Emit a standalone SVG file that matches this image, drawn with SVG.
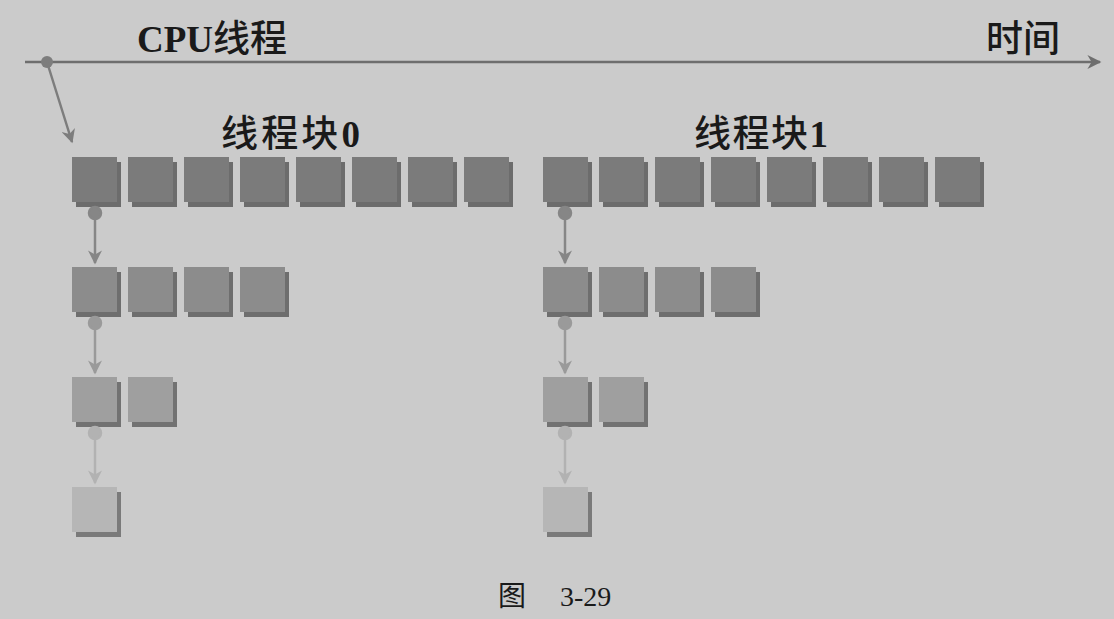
<svg xmlns="http://www.w3.org/2000/svg" width="1114" height="619" viewBox="0 0 1114 619">
<defs>
<style>
.t{font-family:"Liberation Serif","Noto Sans CJK SC",serif;fill:#1a1a1a}
.lbl{font-size:37px;font-weight:500}
.b{font-weight:bold}
.cap{font-size:28px}
.s1{fill:#6c6c6c}.f1{fill:#7b7b7b}
.s2{fill:#6e6e6e}.f2{fill:#8c8c8c}
.s3{fill:#727272}.f3{fill:#9f9f9f}
.s4{fill:#7a7a7a}.f4{fill:#b6b6b6}
.c1{stroke:#868686;fill:#868686}
.c2{stroke:#9a9a9a;fill:#9a9a9a}
.c3{stroke:#b2b2b2;fill:#b2b2b2}
</style>
<marker id="ah1" viewBox="0 0 10 10" refX="9" refY="5" markerWidth="16" markerHeight="14" orient="auto" markerUnits="userSpaceOnUse"><path d="M0,0 L10,5 L0,10 L3,5 z" fill="#868686"/></marker>
<marker id="ah2" viewBox="0 0 10 10" refX="9" refY="5" markerWidth="16" markerHeight="14" orient="auto" markerUnits="userSpaceOnUse"><path d="M0,0 L10,5 L0,10 L3,5 z" fill="#9a9a9a"/></marker>
<marker id="ah3" viewBox="0 0 10 10" refX="9" refY="5" markerWidth="16" markerHeight="14" orient="auto" markerUnits="userSpaceOnUse"><path d="M0,0 L10,5 L0,10 L3,5 z" fill="#b2b2b2"/></marker>
<marker id="aht" viewBox="0 0 10 10" refX="9" refY="5" markerWidth="18" markerHeight="14" orient="auto" markerUnits="userSpaceOnUse"><path d="M0,0 L10,5 L0,10 L3,5 z" fill="#6e6e6e"/></marker>
<marker id="ahd" viewBox="0 0 10 10" refX="9" refY="5" markerWidth="16" markerHeight="14" orient="auto" markerUnits="userSpaceOnUse"><path d="M0,0 L10,5 L0,10 L3,5 z" fill="#7d7d7d"/></marker>
<g id="sq1"><rect class="s1" x="4" y="5" width="45" height="45"/><rect class="f1" x="0" y="0" width="45" height="45"/></g>
<g id="sq2"><rect class="s2" x="4" y="5" width="45" height="45"/><rect class="f2" x="0" y="0" width="45" height="45"/></g>
<g id="sq3"><rect class="s3" x="4" y="5" width="45" height="45"/><rect class="f3" x="0" y="0" width="45" height="45"/></g>
<g id="sq4"><rect class="s4" x="4" y="5" width="45" height="45"/><rect class="f4" x="0" y="0" width="45" height="45"/></g>
</defs>
<rect width="1114" height="619" fill="#cbcbcb"/>

<g id="timeline">
<line x1="25" y1="62" x2="1100" y2="62" stroke="#6e6e6e" stroke-width="2.5" marker-end="url(#aht)"/>
<text class="t lbl" x="137" y="52"><tspan class="b">CPU</tspan>线程</text>
<text class="t lbl" x="986" y="52">时间</text>
</g>

<g id="block0">
<text class="t lbl" x="221" y="147" textLength="139"><tspan>线程块</tspan><tspan class="b">0</tspan></text>
<g id="b0r1">
<use href="#sq1" x="72" y="157"/><use href="#sq1" x="128" y="157"/><use href="#sq1" x="184" y="157"/><use href="#sq1" x="240" y="157"/>
<use href="#sq1" x="296" y="157"/><use href="#sq1" x="352" y="157"/><use href="#sq1" x="408" y="157"/><use href="#sq1" x="464" y="157"/>
</g>
<g id="b0r2"><use href="#sq2" x="72" y="267"/><use href="#sq2" x="128" y="267"/><use href="#sq2" x="184" y="267"/><use href="#sq2" x="240" y="267"/></g>
<g id="b0r3"><use href="#sq3" x="72" y="377"/><use href="#sq3" x="128" y="377"/></g>
<g id="b0r4"><use href="#sq4" x="72" y="487"/></g>
</g>

<g id="block1">
<text class="t lbl" x="694" y="147" textLength="134"><tspan>线程块</tspan><tspan class="b">1</tspan></text>
<g id="b1r1">
<use href="#sq1" x="543" y="157"/><use href="#sq1" x="599" y="157"/><use href="#sq1" x="655" y="157"/><use href="#sq1" x="711" y="157"/>
<use href="#sq1" x="767" y="157"/><use href="#sq1" x="823" y="157"/><use href="#sq1" x="879" y="157"/><use href="#sq1" x="935" y="157"/>
</g>
<g id="b1r2"><use href="#sq2" x="543" y="267"/><use href="#sq2" x="599" y="267"/><use href="#sq2" x="655" y="267"/><use href="#sq2" x="711" y="267"/></g>
<g id="b1r3"><use href="#sq3" x="543" y="377"/><use href="#sq3" x="599" y="377"/></g>
<g id="b1r4"><use href="#sq4" x="543" y="487"/></g>
</g>

<g id="connectors" stroke-width="2.5">
<circle cx="47" cy="62" r="6" fill="#7d7d7d"/>
<line x1="47" y1="62" x2="72" y2="142" stroke="#7d7d7d" marker-end="url(#ahd)"/>

<circle cx="95" cy="213" r="6" class="c1"/>
<line x1="95" y1="213" x2="95" y2="263" class="c1" marker-end="url(#ah1)"/>
<circle cx="95" cy="323" r="6" class="c2"/>
<line x1="95" y1="323" x2="95" y2="373" class="c2" marker-end="url(#ah2)"/>
<circle cx="95" cy="433" r="6" class="c3"/>
<line x1="95" y1="433" x2="95" y2="483" class="c3" marker-end="url(#ah3)"/>

<circle cx="565" cy="213" r="6" class="c1"/>
<line x1="565" y1="213" x2="565" y2="263" class="c1" marker-end="url(#ah1)"/>
<circle cx="565" cy="323" r="6" class="c2"/>
<line x1="565" y1="323" x2="565" y2="373" class="c2" marker-end="url(#ah2)"/>
<circle cx="565" cy="433" r="6" class="c3"/>
<line x1="565" y1="433" x2="565" y2="483" class="c3" marker-end="url(#ah3)"/>
</g>

<g id="caption">
<text class="t cap" x="498" y="606">图</text>
<text class="t cap" x="560" y="606">3-29</text>
</g>
</svg>
